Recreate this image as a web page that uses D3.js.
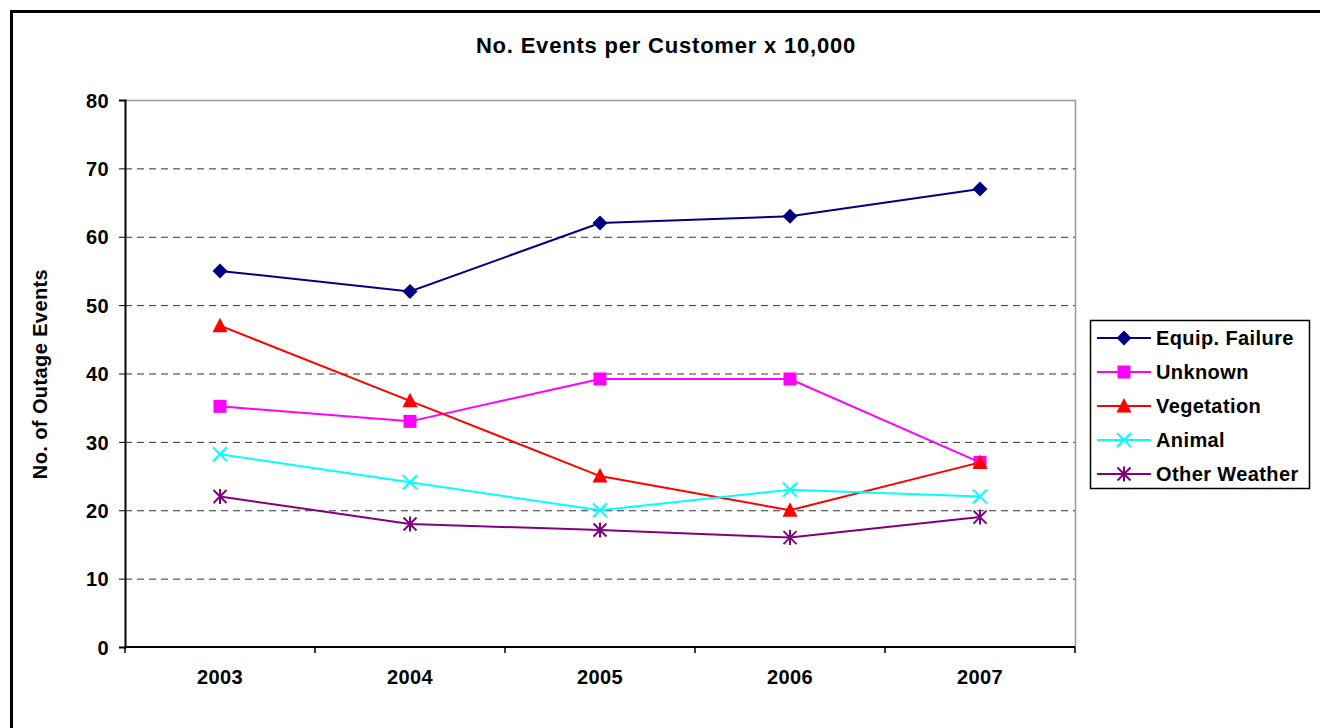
<!DOCTYPE html>
<html><head><meta charset="utf-8">
<script src="https://cdn.jsdelivr.net/npm/d3@7"></script>
<style>body{margin:0;background:#fff}svg{display:block;font-family:"Liberation Sans",Arial,sans-serif}</style>
</head><body><svg id="c" width="1320" height="728"></svg>
<script>
const years = ["2003","2004","2005","2006","2007"];
const seriesNames = ["Equip. Failure","Unknown","Vegetation","Animal","Other Weather"];
const equipFailure = [55,52,62,63,67];
const unknown = [35.2,33,39.2,39.2,27];
const vegetation = [47,36,25,20,27];
const animal = [28.2,24.1,20,23,22];
const otherWeather = [22,18,17.1,16,19];
const yTicks = [0,10,20,30,40,50,60,70,80];
const colors = ["#000080","#FF00FF","#FF0000","#00FFFF","#800080"];
const symbols = ["diamond","square","triangle","x","star"];
const allValues = [equipFailure,unknown,vegetation,animal,otherWeather];

const svg = d3.select("#c");
svg.append("rect").attr("x",11.5).attr("y",11.5).attr("width",1320).attr("height",728)
  .attr("fill","none").attr("stroke","#000").attr("stroke-width",3);

const L=125,T=100,R=1075,B=647;
const x = d3.scaleBand().domain(years).range([L,R]);
const y = d3.scaleLinear().domain([0,80]).range([B,T]);

svg.append("g").selectAll("line").data(yTicks.filter(t=>t>0&&t<80)).join("line")
  .attr("x1",L).attr("x2",R).attr("y1",d=>y(d)+0.5).attr("y2",d=>y(d)+0.5)
  .attr("stroke","#333").attr("stroke-dasharray","7,5");
svg.append("path").attr("d",`M${L},${T+0.5}H${R+0.5}V${B}`).attr("fill","none").attr("stroke","#999").attr("stroke-width",1.5);

const ya = svg.append("g").attr("transform",`translate(${L},0)`)
  .call(d3.axisLeft(y).tickValues(yTicks).tickSize(6).tickPadding(10));
ya.select(".domain").attr("stroke","#000").attr("stroke-width",2);
ya.selectAll("text").attr("font-size",20).attr("font-weight","bold").attr("fill","#000").attr("font-family","Liberation Sans, Arial, sans-serif").attr("dy","0.36em").attr("letter-spacing","0.4");
ya.selectAll(".tick line").attr("stroke","#000");

const xa = svg.append("g").attr("transform",`translate(0,${B})`);
xa.append("line").attr("x1",L).attr("x2",R).attr("y1",0).attr("y2",0).attr("stroke","#000").attr("stroke-width",2);
const bounds = years.map(d=>x(d)).concat([R]);
xa.selectAll("line.tk").data(bounds).join("line").attr("class","tk")
  .attr("x1",d=>d).attr("x2",d=>d).attr("y1",0).attr("y2",6).attr("stroke","#000").attr("stroke-width",1.5);
xa.selectAll("text").data(years).join("text")
  .attr("x",d=>x(d)+x.bandwidth()/2).attr("y",37).attr("text-anchor","middle")
  .attr("font-size",20).attr("font-weight","bold").attr("letter-spacing","0.4").text(d=>d);

svg.append("text").attr("x",666).attr("y",53).attr("text-anchor","middle")
  .attr("font-size",22).attr("font-weight","bold").attr("letter-spacing","0.8").text("No. Events per Customer x 10,000");
svg.append("text").attr("transform","translate(47,374) rotate(-90)").attr("text-anchor","middle")
  .attr("font-size",20).attr("font-weight","bold").attr("letter-spacing","0.4").text("No. of Outage Events");

function marker(g,type,color){
  if(type==="diamond") g.append("path").attr("d","M0,-7.5L7.5,0L0,7.5L-7.5,0Z").attr("fill",color);
  else if(type==="square") g.append("rect").attr("x",-6.5).attr("y",-6.5).attr("width",13).attr("height",13).attr("fill",color);
  else if(type==="triangle") g.append("path").attr("d","M0,-8L7.5,6.5L-7.5,6.5Z").attr("fill",color);
  else if(type==="x") g.append("path").attr("d","M-7,-7L7,7M-7,7L7,-7").attr("stroke",color).attr("stroke-width",2);
  else if(type==="star") g.append("path").attr("d","M-6.5,-6.5L6.5,6.5M-6.5,6.5L6.5,-6.5M0,-7.5V7.5").attr("stroke",color).attr("stroke-width",2);
}

const line = d3.line().x((d,i)=>x(years[i])+x.bandwidth()/2).y(d=>y(d));
allValues.forEach((vals,si)=>{
  const g = svg.append("g");
  g.append("path").attr("d",line(vals)).attr("fill","none").attr("stroke",colors[si]).attr("stroke-width",2);
  vals.forEach((v,i)=>{
    const m = g.append("g").attr("transform",`translate(${x(years[i])+x.bandwidth()/2},${y(v)})`);
    marker(m,symbols[si],colors[si]);
  });
});

const lg = svg.append("g");
lg.append("rect").attr("x",1090.5).attr("y",320.5).attr("width",219).attr("height",168)
  .attr("fill","#fff").attr("stroke","#000").attr("stroke-width",1.5);
seriesNames.forEach((n,i)=>{
  const cy = 338 + i*34;
  lg.append("line").attr("x1",1097).attr("x2",1151).attr("y1",cy).attr("y2",cy).attr("stroke",colors[i]).attr("stroke-width",2);
  marker(lg.append("g").attr("transform",`translate(1124,${cy})`),symbols[i],colors[i]);
  lg.append("text").attr("x",1156).attr("y",cy+7).attr("font-size",20).attr("font-weight","bold").attr("letter-spacing","0.4").text(n);
});
</script></body></html>
